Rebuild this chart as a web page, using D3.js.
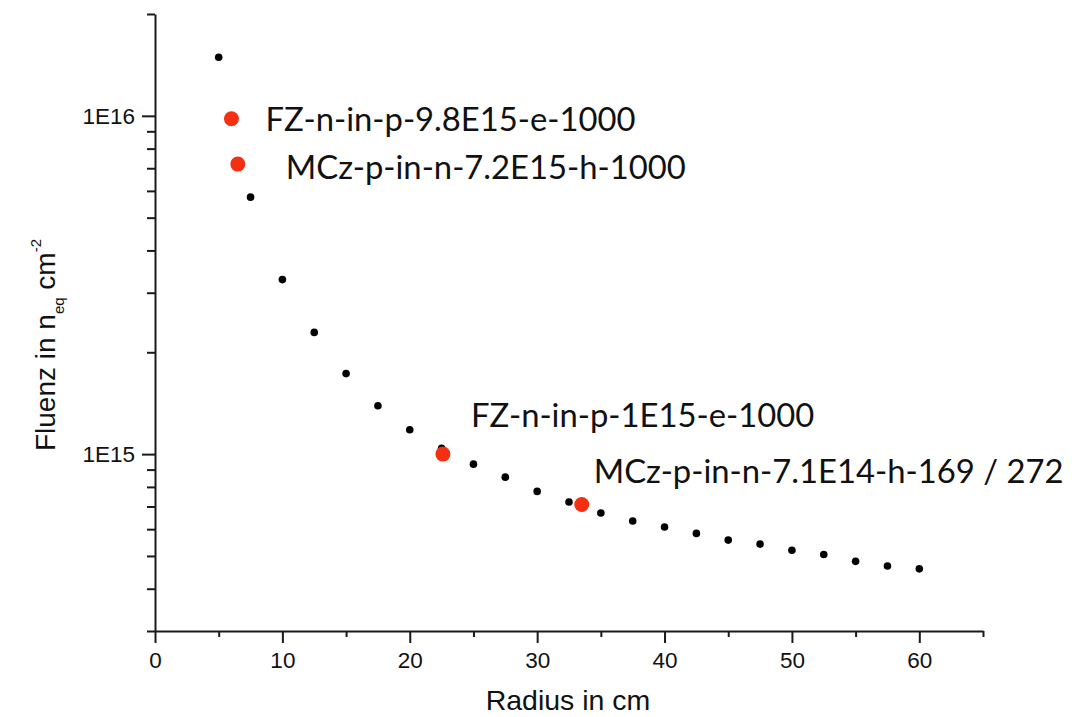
<!DOCTYPE html>
<html>
<head>
<meta charset="utf-8">
<script src="https://cdn.jsdelivr.net/npm/d3@7"></script>
<style>
  body { margin: 0; background: #fff; }
  svg { display: block; }
</style>
</head>
<body>
<div id="chart"></div>
<script>
// radius in cm, fluence in n_eq cm^-2 (simulation points)
const radius = [5, 7.5, 10, 12.5, 15, 17.5, 20, 22.5, 25, 27.5, 30, 32.5, 35, 37.5, 40, 42.5, 45, 47.5, 50, 52.5, 55, 57.5, 60];
const fluence = [1.49e16, 5.75e15, 3.28e15, 2.29e15, 1.73e15, 1.39e15, 1.18e15, 1.04e15, 9.34e14, 8.55e14, 7.76e14, 7.22e14,
                 6.70e14, 6.34e14, 6.09e14, 5.83e14, 5.57e14, 5.42e14, 5.20e14, 5.05e14, 4.82e14, 4.67e14, 4.58e14];

// irradiated samples
const sampleRadius = [6.0, 6.5, 22.6, 33.5];
const sampleFluence = [9.8e15, 7.2e15, 1e15, 7.1e14];
const sampleNames = [
  "FZ-n-in-p-9.8E15-e-1000",
  "MCz-p-in-n-7.2E15-h-1000",
  "FZ-n-in-p-1E15-e-1000",
  "MCz-p-in-n-7.1E14-h-169 / 272"
];

const xMajor = [0, 10, 20, 30, 40, 50, 60];
const xMinor = [5, 15, 25, 35, 45, 55, 65];
const yMajor = [1e15, 1e16];
const yMinor = [3e14, 4e14, 5e14, 6e14, 7e14, 8e14, 9e14,
                2e15, 3e15, 4e15, 5e15, 6e15, 7e15, 8e15, 9e15, 2e16];
const yMajorLabels = ["1E15", "1E16"];

const width = 1091, height = 717;
const margin = {top: 14, right: 108, bottom: 86, left: 155};

const svg = d3.select("#chart").append("svg")
    .attr("width", width)
    .attr("height", height);

const x = d3.scaleLinear()
    .domain([0, 65])
    .range([margin.left, width - margin.right]);

const y = d3.scaleLog()
    .domain([3e14, 2e16])
    .range([height - margin.bottom, margin.top]);

const axisColor = "#1a1a1a";
const tickFont = "'Liberation Sans', Arial, sans-serif";

// x axis: minor then major
svg.append("g")
    .attr("transform", `translate(0,${y.range()[0]})`)
    .call(d3.axisBottom(x).tickValues(xMinor).tickSize(6).tickFormat(""))
    .call(g => g.select(".domain").remove())
    .call(g => g.selectAll("line").attr("stroke", axisColor).attr("stroke-width", 2));

svg.append("g")
    .attr("transform", `translate(0,${y.range()[0]})`)
    .call(d3.axisBottom(x).tickValues(xMajor).tickSize(12).tickSizeOuter(0).tickPadding(9).tickFormat(d3.format("d")))
    .call(g => g.select(".domain").attr("stroke", axisColor).attr("stroke-width", 2))
    .call(g => g.selectAll("line").attr("stroke", axisColor).attr("stroke-width", 2))
    .call(g => g.selectAll("text")
        .attr("fill", "#111")
        .style("font-family", tickFont)
        .style("font-size", "22.5px"));

// y axis: minor then major
svg.append("g")
    .attr("transform", `translate(${x.range()[0]},0)`)
    .call(d3.axisLeft(y).tickValues(yMinor).tickSize(8).tickFormat(""))
    .call(g => g.select(".domain").remove())
    .call(g => g.selectAll("line").attr("stroke", axisColor).attr("stroke-width", 2));

svg.append("g")
    .attr("transform", `translate(${x.range()[0]},0)`)
    .call(d3.axisLeft(y).tickValues(yMajor).tickSize(13).tickSizeOuter(0).tickPadding(7)
        .tickFormat((d, i) => yMajorLabels[i]))
    .call(g => g.select(".domain").attr("stroke", axisColor).attr("stroke-width", 2))
    .call(g => g.selectAll("line").attr("stroke", axisColor).attr("stroke-width", 2))
    .call(g => g.selectAll("text")
        .attr("fill", "#111")
        .style("font-family", tickFont)
        .style("font-size", "22.5px"));

// axis titles
svg.append("text")
    .attr("x", (x.range()[0] + x.range()[1]) / 2 - 1)
    .attr("y", 710)
    .attr("text-anchor", "middle")
    .attr("fill", "#111")
    .style("font-family", tickFont)
    .style("font-size", "28.5px")
    .text("Radius in cm");

const yTitle = svg.append("text")
    .attr("transform", "translate(55,345) rotate(-90)")
    .attr("text-anchor", "middle")
    .attr("fill", "#111")
    .style("font-family", tickFont)
    .style("font-size", "28px");
yTitle.append("tspan").text("Fluenz in n");
yTitle.append("tspan").attr("dy", 9).style("font-size", "15px").text("eq");
yTitle.append("tspan").attr("dy", -9).text(" cm");
yTitle.append("tspan").attr("dy", -14).style("font-size", "15px").text("-2");

// simulation points
svg.append("g")
    .selectAll("circle")
    .data(radius)
    .join("circle")
    .attr("cx", d => x(d))
    .attr("cy", (d, i) => y(fluence[i]))
    .attr("r", 3.8)
    .attr("fill", "#000");

// sample points
svg.append("g")
    .selectAll("circle")
    .data(sampleRadius)
    .join("circle")
    .attr("cx", d => x(d))
    .attr("cy", (d, i) => y(sampleFluence[i]))
    .attr("r", 7.5)
    .attr("fill", "#f52f12");

// labels next to the samples
const labelOffset = [[34, 12], [48, 15], [28, -27], [12, -21]];
svg.append("g")
    .selectAll("text")
    .data(sampleNames)
    .join("text")
    .attr("x", (d, i) => x(sampleRadius[i]) + labelOffset[i][0])
    .attr("y", (d, i) => y(sampleFluence[i]) + labelOffset[i][1])
    .attr("fill", "#111")
    .style("font-family", "Lato, 'Open Sans', sans-serif")
    .style("font-size", "32.8px")
    .text(d => d);
</script>
</body>
</html>
